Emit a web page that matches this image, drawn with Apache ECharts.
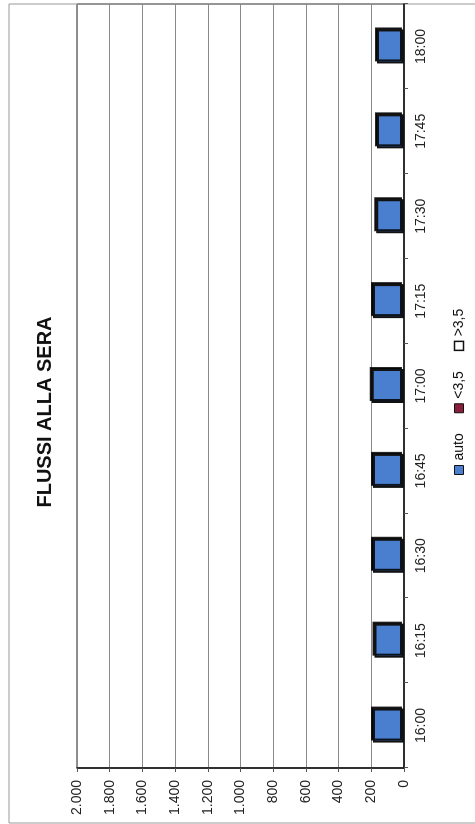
<!DOCTYPE html>
<html>
<head>
<meta charset="utf-8">
<script src="https://cdn.jsdelivr.net/npm/echarts@6/dist/echarts.min.js"></script>
<style>
html,body{margin:0;padding:0;background:#fff;width:475px;height:824px;overflow:hidden;}
#wrap{position:absolute;left:0;top:0;width:824px;height:475px;transform-origin:0 0;transform:translate(0px,824px) rotate(-90deg);}
#chart{width:824px;height:475px;}
</style>
</head>
<body>
<div id="wrap"><div id="chart"></div></div>
<script>
const titleText = 'FLUSSI ALLA SERA';
const categories = ['16:00','16:15','16:30','16:45','17:00','17:15','17:30','17:45','18:00'];
const seriesNames = ['auto','<3,5','>3,5'];
const autoValues = [190,180,190,190,198,190,170,165,165];
const under35Values = [0,0,0,0,0,0,0,0,0];
const over35Values = [0,0,0,0,0,0,0,0,0];
const valueTicks = [0,200,400,600,800,1000,1200,1400,1600,1800,2000];

const fmt = v => v >= 1000 ? Math.floor(v/1000) + '.' + String(v % 1000).padStart(3,'0') : String(v);
const font = '"Liberation Sans", Arial, sans-serif';

const chart = echarts.init(document.getElementById('chart'), null, {renderer:'canvas'});
chart.setOption({
  backgroundColor:'#fff',
  animation:false,
  title:{text:titleText,left:'center',top:30,textStyle:{fontFamily:font,fontSize:20,fontWeight:'bold',color:'#111'}},
  legend:{
    left:344, top:447, itemWidth:9, itemHeight:9, itemGap:20,
    textStyle:{fontFamily:font,fontSize:14,color:'#111'},
    data:[
      {name:seriesNames[0],icon:'rect',itemStyle:{color:'#4a7fd0',borderColor:'#111',borderWidth:1}},
      {name:seriesNames[1],icon:'rect',itemStyle:{color:'#8a1c3c',borderColor:'#111',borderWidth:1}},
      {name:seriesNames[2],icon:'rect',itemStyle:{color:'#ffffff',borderColor:'#111',borderWidth:1.5}}
    ]
  },
  grid:{left:56,right:4,top:77,bottom:71,show:true,borderColor:'#222',borderWidth:1},
  xAxis:{
    type:'category',data:categories,boundaryGap:true,
    axisLine:{lineStyle:{color:'#111',width:1.5}},
    axisTick:{show:true,length:4,alignWithLabel:false,lineStyle:{color:'#555'}},
    axisLabel:{fontFamily:font,fontSize:14,color:'#222',margin:10}
  },
  yAxis:{
    type:'value',min:valueTicks[0],max:valueTicks[valueTicks.length-1],interval:valueTicks[1]-valueTicks[0],
    axisLine:{show:true,lineStyle:{color:'#111',width:1.5}},
    axisTick:{show:true,length:4,lineStyle:{color:'#555'}},
    splitLine:{show:true,lineStyle:{color:'#8a8a8a',width:1}},
    axisLabel:{fontFamily:font,fontSize:14,color:'#222',margin:12,formatter:fmt}
  },
  graphic:[
    {type:'line',shape:{x1:1,y1:9,x2:820,y2:9},style:{stroke:'#999',lineWidth:1}},
    {type:'line',shape:{x1:1,y1:9,x2:1,y2:475},style:{stroke:'#999',lineWidth:1}},
    {type:'line',shape:{x1:820,y1:9,x2:820,y2:475},style:{stroke:'#999',lineWidth:1}}
  ],
  series:[
    {name:seriesNames[0],type:'bar',stack:'s',data:autoValues,barWidth:34,
     itemStyle:{color:'#4a7fd0',borderColor:'#111',borderWidth:2,shadowColor:'rgba(0,0,0,0.85)',shadowOffsetX:2,shadowOffsetY:-2,shadowBlur:0}},
    {name:seriesNames[1],type:'bar',stack:'s',data:under35Values,barWidth:34,itemStyle:{color:'#8a1c3c',borderWidth:0}},
    {name:seriesNames[2],type:'bar',stack:'s',data:over35Values,barWidth:34,itemStyle:{color:'#ffffff',borderWidth:0}}
  ]
});
</script>
</body>
</html>
